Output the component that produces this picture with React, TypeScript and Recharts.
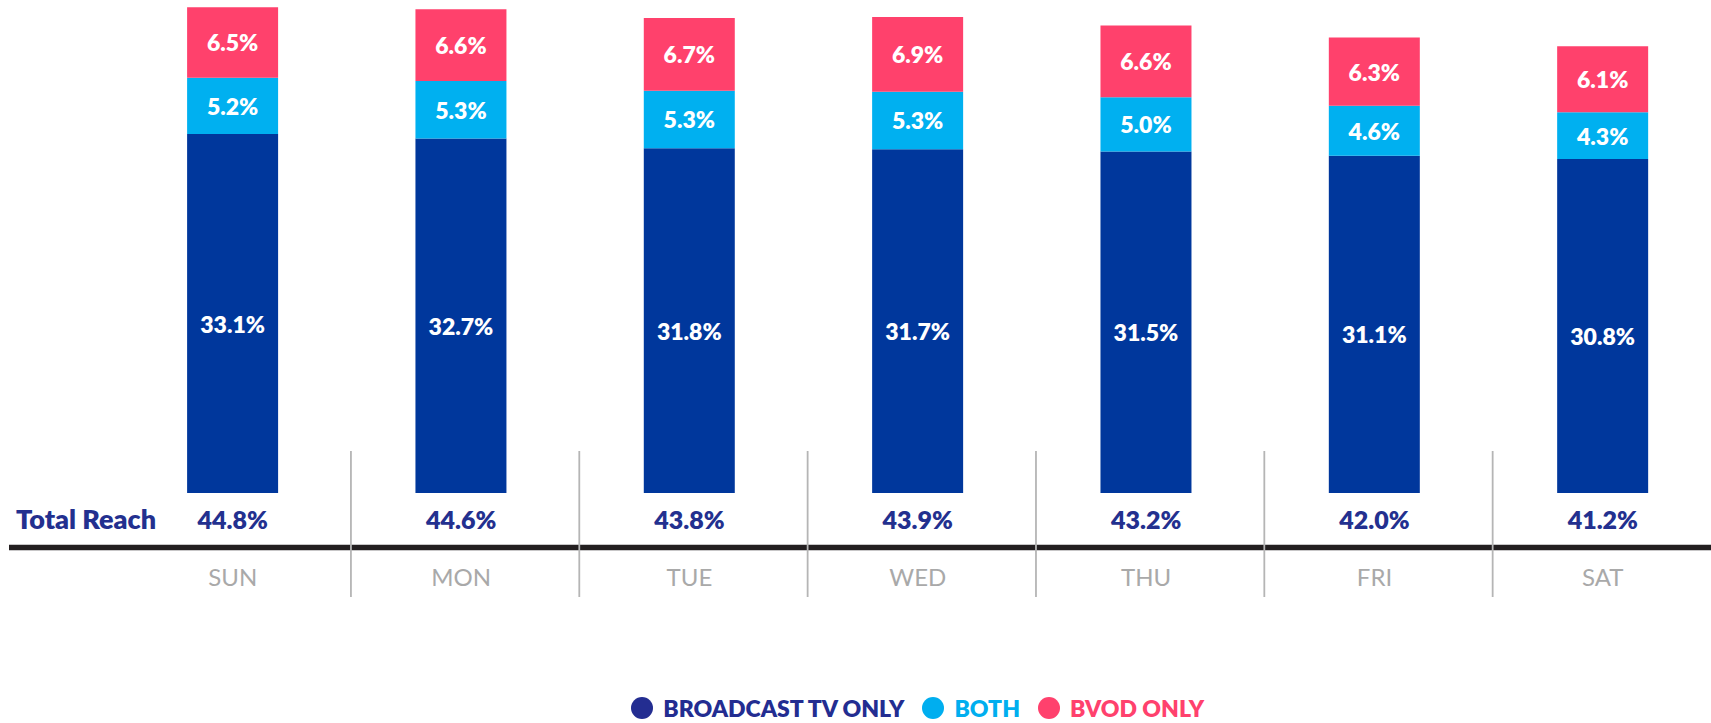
import React from 'react';
import { BarChart, Bar, XAxis, YAxis, Legend, LabelList } from 'recharts';

const days = ['SUN', 'MON', 'TUE', 'WED', 'THU', 'FRI', 'SAT'];
const broadcastOnly = [33.1, 32.7, 31.8, 31.7, 31.5, 31.1, 30.8];
const both = [5.2, 5.3, 5.3, 5.3, 5.0, 4.6, 4.3];
const bvodOnly = [6.5, 6.6, 6.7, 6.9, 6.6, 6.3, 6.1];
const totalReach = [44.8, 44.6, 43.8, 43.9, 43.2, 42.0, 41.2];
const yDomain: [number, number] = [0, 45];

const series = [
  { key: 'broadcast', name: 'BROADCAST TV ONLY', fill: '#00379c', legend: '#232d91', labelShift: 10 },
  { key: 'both', name: 'BOTH', fill: '#00b0f0', legend: '#00aeef', labelShift: 0 },
  { key: 'bvod', name: 'BVOD ONLY', fill: '#ff416c', legend: '#ff416d', labelShift: 0 },
];

const data = days.map((d, i) => ({
  day: d,
  broadcast: broadcastOnly[i],
  both: both[i],
  bvod: bvodOnly[i],
  total: totalReach[i],
}));

const W = 1711;
const H = 723;
const M = { top: 5, right: -6, bottom: 0, left: 118.6 };
const BAND = (W - M.left - M.right) / days.length;
const FONT = 'Lato, "Noto Sans", sans-serif';
const NAVY = '#23308f';
const BOLD = 800;

const fmt = (v: any) => `${Number(v).toFixed(1)}%`;

function DayTick(props: any) {
  const { x, y, payload } = props;
  const i = days.indexOf(payload.value);
  return (
    <g>
      {i === 0 && (
        <>
          <line x1={9} x2={W} y1={y + 54.5} y2={y + 54.5} stroke="#231f20" strokeWidth={5.5} />
          <text x={16} y={y + 36} fill={NAVY} fontSize={27} fontWeight={BOLD} fontFamily={FONT} textAnchor="start">
            Total Reach
          </text>
        </>
      )}
      {i > 0 && (
        <line x1={x - BAND / 2 + 4} x2={x - BAND / 2 + 4} y1={y - 42} y2={y + 104} stroke="#b5b5b5" strokeWidth={1.8} />
      )}
      <text x={x} y={y + 36} fill={NAVY} fontSize={25} fontWeight={BOLD} fontFamily={FONT} textAnchor="middle">
        {fmt(totalReach[i])}
      </text>
      <text x={x} y={y + 93} fill="#a9a9a9" fontSize={24} fontWeight={400} fontFamily={FONT} textAnchor="middle">
        {payload.value}
      </text>
    </g>
  );
}

function makeSegLabel(shift: number) {
  return (p: any) => {
    const { x, y, width, height, value } = p;
    return (
      <text
        x={x + width / 2}
        y={y + height / 2 + shift}
        fill="#ffffff"
        fontSize={23}
        fontWeight={BOLD}
        fontFamily={FONT}
        textAnchor="middle"
        dominantBaseline="central"
      >
        {fmt(value)}
      </text>
    );
  };
}

function LegendContent() {
  return (
    <div
      style={{
        display: 'flex',
        justifyContent: 'center',
        alignItems: 'center',
        height: 28,
        fontFamily: FONT,
        fontWeight: BOLD,
        fontSize: 23,
      }}
    >
      {series.map((s, i) => (
        <div key={s.key} style={{ display: 'flex', alignItems: 'center', marginLeft: i === 0 ? 0 : 18 }}>
          <span
            style={{
              display: 'inline-block',
              width: 22,
              height: 22,
              borderRadius: '50%',
              background: s.legend,
              marginRight: 10,
            }}
          />
          <span style={{ color: s.legend, lineHeight: '28px' }}>{s.name}</span>
        </div>
      ))}
    </div>
  );
}

export default function App() {
  return (
    <div style={{ position: 'absolute', left: 0, top: 0, width: W, height: H, background: '#fff' }}>
      <BarChart width={W} height={H} data={data} margin={M} barCategoryGap="30%" style={{ fontFamily: FONT }}>
        <YAxis hide domain={yDomain} type="number" allowDataOverflow />
        <XAxis
          dataKey="day"
          height={202}
          axisLine={false}
          tickLine={false}
          tickSize={0}
          tickMargin={0}
          interval={0}
          tick={<DayTick />}
        />
        {series.map((s) => (
          <Bar key={s.key} dataKey={s.key} name={s.name} stackId="a" fill={s.fill} isAnimationActive={false}>
            <LabelList dataKey={s.key} content={makeSegLabel(s.labelShift)} />
          </Bar>
        ))}
        <Legend verticalAlign="bottom" align="center" wrapperStyle={{ height: 28, bottom: 1 }} content={<LegendContent />} />
      </BarChart>
    </div>
  );
}
